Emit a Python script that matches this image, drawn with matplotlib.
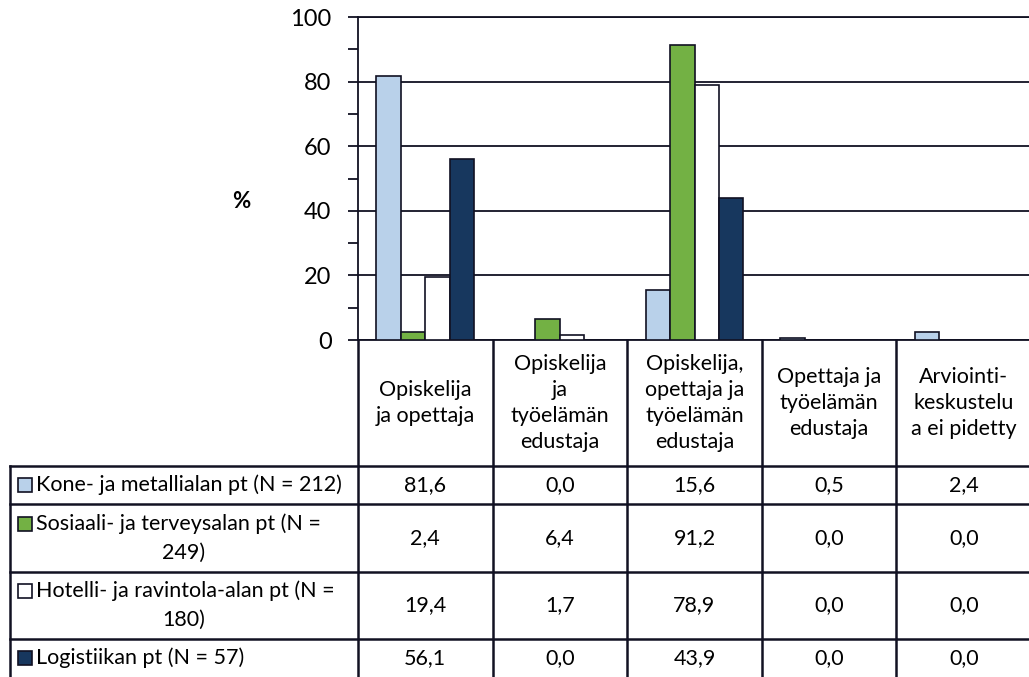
import matplotlib
matplotlib.use("Agg")
import matplotlib.pyplot as plt
import numpy as np

plt.rcParams["font.family"] = ["Lato", "DejaVu Sans"]

categories = [
    "Opiskelija\nja opettaja",
    "Opiskelija\nja\ntyöelämän\nedustaja",
    "Opiskelija,\nopettaja ja\ntyöelämän\nedustaja",
    "Opettaja ja\ntyöelämän\nedustaja",
    "Arviointi-\nkeskustelu\na ei pidetty",
]
series_names = [
    "Kone- ja metallialan pt (N = 212)",
    "Sosiaali- ja terveysalan pt (N =\n249)",
    "Hotelli- ja ravintola-alan pt (N =\n180)",
    "Logistiikan pt (N = 57)",
]
kone = [81.6, 0.0, 15.6, 0.5, 2.4]
sosiaali = [2.4, 6.4, 91.2, 0.0, 0.0]
hotelli = [19.4, 1.7, 78.9, 0.0, 0.0]
logistiikka = [56.1, 0.0, 43.9, 0.0, 0.0]
colors = ["#B9D1EA", "#73B144", "#FFFFFF", "#17375E"]

all_series = [kone, sosiaali, hotelli, logistiikka]

W, H = 1029, 677
fig = plt.figure(figsize=(W / 100, H / 100), dpi=100)

# layout in pixels
ax_left, ax_right = 358, 1031
ax_top, ax_bottom = 17, 340
row_lines = [466, 504, 572, 639, 677]
tab_left = 10
ink = "#111122"

ax = fig.add_axes([ax_left / W, 1 - ax_bottom / H,
                   (ax_right - ax_left) / W, (ax_bottom - ax_top) / H])
n = len(categories)
x = np.arange(n)
bw = 0.182
for i, (vals, c) in enumerate(zip(all_series, colors)):
    ax.bar(x + (i - 1.5) * bw, vals, bw, color=c, edgecolor=ink,
           linewidth=1.2, zorder=3)

ax.set_xlim(-0.5, n - 0.5)
ax.set_ylim(0, 100)
ax.set_yticks(range(0, 101, 20))
ax.set_yticks(range(10, 100, 20), minor=True)
ax.tick_params(axis="y", which="both", direction="out", length=7,
               width=1.3, color=ink, labelsize=17, pad=12)
ax.set_xticks([])
ax.grid(axis="y", color=ink, linewidth=1.3, zorder=0)
ax.spines["right"].set_visible(False)
for s in ["left", "bottom", "top"]:
    ax.spines[s].set_color(ink)
    ax.spines[s].set_linewidth(1.3)

# data table drawn in pixel coordinates
tab = fig.add_axes([0, 0, 1, 1], zorder=5)
tab.set_xlim(0, W)
tab.set_ylim(H, 0)
tab.axis("off")
tab.patch.set_alpha(0)

tab.text(241, 201, "%", ha="center", va="center", fontsize=16,
         fontweight="bold")

col_w = (ax_right - ax_left) / n
col_edges = [ax_left + k * col_w for k in range(n + 1)]
lw = 1.8
for xe in col_edges:
    tab.plot([xe, xe], [ax_bottom, H], color=ink, lw=lw)
tab.plot([tab_left, tab_left], [row_lines[0], H], color=ink, lw=lw)
for yr in row_lines[:-1]:
    tab.plot([tab_left, W], [yr, yr], color=ink, lw=lw)

fs = 15.5
for k, cat in enumerate(categories):
    tab.text((col_edges[k] + col_edges[k + 1]) / 2, (ax_bottom + row_lines[0]) / 2,
             cat, ha="center", va="center", fontsize=fs, linespacing=1.38)

for r, (name, vals, c) in enumerate(zip(series_names, all_series, colors)):
    y0, y1 = row_lines[r], row_lines[r + 1]
    yc = (y0 + y1) / 2
    lines = name.split("\n")
    if len(lines) == 1:
        ty = [yc]
    else:
        ty = [yc - 14.5, yc + 14.5]
    tab.add_patch(plt.Rectangle((18, ty[0] - 7), 14, 14, facecolor=c,
                                edgecolor=ink, lw=1.2))
    tab.text(36, ty[0], lines[0], ha="left", va="center", fontsize=fs)
    if len(lines) > 1:
        tab.text((tab_left + ax_left) / 2, ty[1], lines[1], ha="center",
                 va="center", fontsize=fs)
    for k, v in enumerate(vals):
        tab.text((col_edges[k] + col_edges[k + 1]) / 2, yc,
                 f"{v:.1f}".replace(".", ","), ha="center", va="center",
                 fontsize=fs)

fig.savefig("out.png", dpi=100)
